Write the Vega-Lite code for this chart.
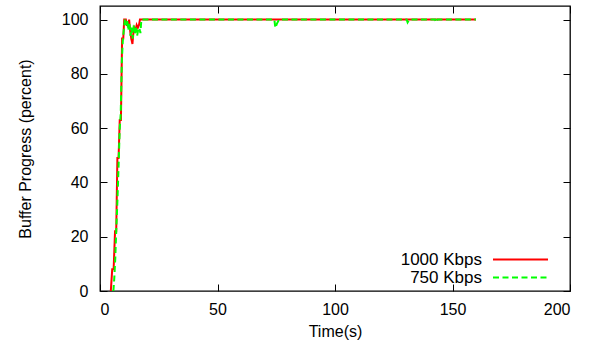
{
  "$schema": "https://vega.github.io/schema/vega-lite/v6.json",
  "width": 470,
  "height": 285,
  "autosize": {"type": "none"},
  "padding": {"left": 100, "top": 6, "right": 24, "bottom": 54},
  "background": "white",
  "config": {
    "font": "Liberation Sans",
    "view": {"stroke": "#000000", "strokeWidth": 1.3},
    "axis": {
      "labelFont": "Liberation Sans",
      "titleFont": "Liberation Sans",
      "labelFontSize": 16,
      "titleFontSize": 16,
      "titleFontWeight": "normal",
      "labelColor": "#000000",
      "titleColor": "#000000",
      "tickColor": "#000000",
      "tickSize": -7,
      "tickWidth": 1,
      "domain": false,
      "grid": false
    },
    "legend": {
      "orient": "none",
      "legendX": 412,
      "legendY": 245,
      "padding": 0,
      "labelAlign": "right",
      "labelOffset": -47,
      "symbolType": "M-5,0H5",
      "symbolSize": 121,
      "symbolStrokeWidth": 2,
      "labelFont": "Liberation Sans",
      "labelFontSize": 17,
      "labelColor": "#000000",
      "rowPadding": 0
    }
  },
  "data": {
    "values": [
      {"t": 4.6, "v": 0, "s": "1000 Kbps"},
      {"t": 5.2, "v": 8, "s": "1000 Kbps"},
      {"t": 5.8, "v": 8, "s": "1000 Kbps"},
      {"t": 6.4, "v": 22, "s": "1000 Kbps"},
      {"t": 6.9, "v": 22, "s": "1000 Kbps"},
      {"t": 7.4, "v": 49, "s": "1000 Kbps"},
      {"t": 7.9, "v": 49, "s": "1000 Kbps"},
      {"t": 8.4, "v": 63, "s": "1000 Kbps"},
      {"t": 8.9, "v": 63, "s": "1000 Kbps"},
      {"t": 9.4, "v": 93, "s": "1000 Kbps"},
      {"t": 9.9, "v": 93, "s": "1000 Kbps"},
      {"t": 10.3, "v": 100, "s": "1000 Kbps"},
      {"t": 11.0, "v": 100, "s": "1000 Kbps"},
      {"t": 11.4, "v": 98, "s": "1000 Kbps"},
      {"t": 12.0, "v": 98, "s": "1000 Kbps"},
      {"t": 12.4, "v": 100, "s": "1000 Kbps"},
      {"t": 12.8, "v": 96, "s": "1000 Kbps"},
      {"t": 13.3, "v": 93, "s": "1000 Kbps"},
      {"t": 13.8, "v": 91, "s": "1000 Kbps"},
      {"t": 14.2, "v": 95, "s": "1000 Kbps"},
      {"t": 14.6, "v": 97, "s": "1000 Kbps"},
      {"t": 15.1, "v": 96, "s": "1000 Kbps"},
      {"t": 15.6, "v": 98, "s": "1000 Kbps"},
      {"t": 16.1, "v": 97, "s": "1000 Kbps"},
      {"t": 16.6, "v": 98, "s": "1000 Kbps"},
      {"t": 17.0, "v": 100, "s": "1000 Kbps"},
      {"t": 160, "v": 100, "s": "1000 Kbps"},
      {"t": 5.7, "v": 0, "s": "750 Kbps"},
      {"t": 6.1, "v": 5, "s": "750 Kbps"},
      {"t": 6.5, "v": 12, "s": "750 Kbps"},
      {"t": 6.9, "v": 22, "s": "750 Kbps"},
      {"t": 7.4, "v": 33, "s": "750 Kbps"},
      {"t": 7.9, "v": 46, "s": "750 Kbps"},
      {"t": 8.4, "v": 60, "s": "750 Kbps"},
      {"t": 8.8, "v": 65, "s": "750 Kbps"},
      {"t": 9.3, "v": 85, "s": "750 Kbps"},
      {"t": 9.7, "v": 92, "s": "750 Kbps"},
      {"t": 10.2, "v": 97, "s": "750 Kbps"},
      {"t": 10.6, "v": 100, "s": "750 Kbps"},
      {"t": 11.2, "v": 98, "s": "750 Kbps"},
      {"t": 11.6, "v": 100, "s": "750 Kbps"},
      {"t": 12.0, "v": 96, "s": "750 Kbps"},
      {"t": 12.5, "v": 99, "s": "750 Kbps"},
      {"t": 13.0, "v": 94, "s": "750 Kbps"},
      {"t": 13.4, "v": 97, "s": "750 Kbps"},
      {"t": 13.9, "v": 93, "s": "750 Kbps"},
      {"t": 14.4, "v": 98, "s": "750 Kbps"},
      {"t": 14.8, "v": 95, "s": "750 Kbps"},
      {"t": 15.3, "v": 97, "s": "750 Kbps"},
      {"t": 15.8, "v": 94, "s": "750 Kbps"},
      {"t": 16.2, "v": 96, "s": "750 Kbps"},
      {"t": 16.7, "v": 97, "s": "750 Kbps"},
      {"t": 17.2, "v": 95, "s": "750 Kbps"},
      {"t": 17.6, "v": 100, "s": "750 Kbps"},
      {"t": 74.2, "v": 100, "s": "750 Kbps"},
      {"t": 74.6, "v": 97, "s": "750 Kbps"},
      {"t": 75.3, "v": 98.5, "s": "750 Kbps"},
      {"t": 76.2, "v": 100, "s": "750 Kbps"},
      {"t": 130.5, "v": 100, "s": "750 Kbps"},
      {"t": 130.9, "v": 99, "s": "750 Kbps"},
      {"t": 131.6, "v": 100, "s": "750 Kbps"},
      {"t": 142.6, "v": 100, "s": "750 Kbps"},
      {"t": 143.0, "v": 99, "s": "750 Kbps"},
      {"t": 143.6, "v": 100, "s": "750 Kbps"},
      {"t": 160, "v": 100, "s": "750 Kbps"}
    ]
  },
  "encoding": {
    "x": {
      "field": "t",
      "type": "quantitative",
      "scale": {"domain": [0, 200], "nice": false, "zero": false}
    },
    "y": {
      "field": "v",
      "type": "quantitative",
      "scale": {"domain": [0, 105], "nice": false}
    },
    "color": {
      "field": "s",
      "type": "nominal",
      "scale": {"domain": ["1000 Kbps", "750 Kbps"], "range": ["#ff0000", "#00ff00"]},
      "legend": {"title": null}
    },
    "strokeDash": {
      "field": "s",
      "type": "nominal",
      "scale": {"domain": ["1000 Kbps", "750 Kbps"], "range": [[1, 0], [6, 3.5]]},
      "legend": {"title": null}
    }
  },
  "layer": [
    {
      "transform": [{"filter": "datum.s === '1000 Kbps'"}],
      "mark": {"type": "line", "strokeWidth": 2, "interpolate": "linear"},
      "encoding": {
        "x": {
          "field": "t",
          "type": "quantitative",
          "axis": {"orient": "bottom", "values": [0, 50, 100, 150, 200], "title": "Time(s)", "labelPadding": 17, "titlePadding": 6}
        },
        "y": {
          "field": "v",
          "type": "quantitative",
          "axis": {"orient": "left", "values": [0, 20, 40, 60, 80, 100], "title": "Buffer Progress (percent)", "labelPadding": 19, "titlePadding": 28}
        }
      }
    },
    {
      "transform": [{"filter": "datum.s === '750 Kbps'"}],
      "mark": {"type": "line", "strokeWidth": 2, "interpolate": "linear"},
      "encoding": {
        "x": {
          "field": "t",
          "type": "quantitative",
          "axis": {"orient": "top", "values": [0, 50, 100, 150, 200], "labels": false, "title": null}
        },
        "y": {
          "field": "v",
          "type": "quantitative",
          "axis": {"orient": "right", "values": [0, 20, 40, 60, 80, 100], "labels": false, "title": null}
        }
      }
    }
  ],
  "resolve": {"axis": {"x": "independent", "y": "independent"}}
}
